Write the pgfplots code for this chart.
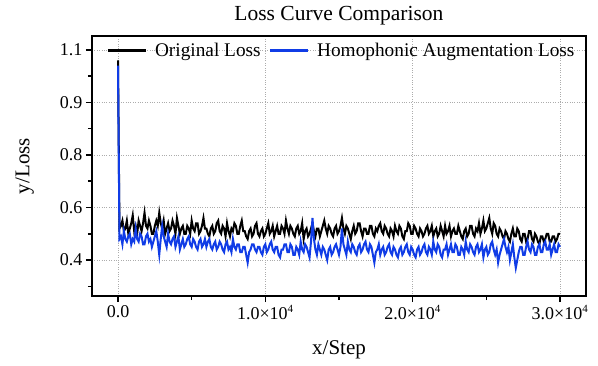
\documentclass[border=0pt]{standalone}
\usepackage{pgfplots}
\pgfplotsset{compat=1.18}
\usepackage{pgfplotstable}
\usepackage{fontspec}
\setmainfont{Liberation Serif}
\definecolor{lblue}{RGB}{16,60,230}
\pgfplotstableread{
x orig homo
0 1.16 1.14
100 0.52 0.48
200 0.53 0.49
300 0.55 0.46
400 0.51 0.51
500 0.52 0.48
600 0.55 0.47
700 0.50 0.49
800 0.52 0.50
900 0.54 0.46
1000 0.57 0.48
1100 0.51 0.47
1200 0.53 0.52
1300 0.50 0.48
1400 0.55 0.47
1500 0.53 0.50
1600 0.51 0.49
1700 0.54 0.46
1800 0.58 0.46
1900 0.53 0.49
2000 0.52 0.50
2100 0.55 0.47
2200 0.53 0.48
2300 0.50 0.45
2400 0.50 0.47
2500 0.53 0.49
2600 0.55 0.51
2700 0.53 0.47
2800 0.58 0.42
2900 0.54 0.48
3000 0.52 0.53
3100 0.55 0.49
3200 0.50 0.47
3300 0.52 0.45
3400 0.54 0.50
3500 0.51 0.47
3600 0.52 0.46
3700 0.55 0.48
3800 0.53 0.49
3900 0.50 0.45
4000 0.56 0.47
4100 0.53 0.49
4200 0.50 0.44
4300 0.52 0.46
4400 0.53 0.48
4500 0.50 0.45
4600 0.50 0.46
4700 0.53 0.48
4800 0.52 0.49
4900 0.50 0.46
5000 0.55 0.45
5100 0.52 0.48
5200 0.51 0.47
5300 0.54 0.45
5400 0.54 0.44
5500 0.50 0.47
5600 0.51 0.48
5700 0.53 0.45
5800 0.56 0.46
5900 0.52 0.48
6000 0.52 0.45
6100 0.50 0.47
6200 0.49 0.48
6300 0.52 0.45
6400 0.53 0.44
6500 0.50 0.46
6600 0.51 0.47
6700 0.54 0.44
6800 0.55 0.45
6900 0.51 0.47
7000 0.50 0.46
7100 0.53 0.44
7200 0.52 0.43
7300 0.49 0.46
7400 0.54 0.47
7500 0.51 0.44
7600 0.49 0.45
7700 0.52 0.43
7800 0.51 0.48
7900 0.54 0.45
8000 0.53 0.44
8100 0.50 0.46
8200 0.50 0.46
8300 0.53 0.43
8400 0.55 0.43
8500 0.51 0.45
8600 0.51 0.45
8700 0.49 0.42
8800 0.48 0.39
8900 0.51 0.43
9000 0.52 0.44
9100 0.49 0.46
9200 0.50 0.46
9300 0.53 0.44
9400 0.54 0.43
9500 0.50 0.45
9600 0.49 0.45
9700 0.51 0.43
9800 0.52 0.42
9900 0.49 0.45
10000 0.50 0.46
10100 0.52 0.43
10200 0.54 0.44
10300 0.50 0.46
10400 0.51 0.47
10500 0.53 0.44
10600 0.49 0.43
10700 0.51 0.45
10800 0.53 0.45
10900 0.50 0.42
11000 0.50 0.41
11100 0.53 0.44
11200 0.52 0.44
11300 0.50 0.46
11400 0.55 0.46
11500 0.52 0.43
11600 0.50 0.43
11700 0.53 0.46
11800 0.52 0.45
11900 0.50 0.42
12000 0.49 0.42
12100 0.52 0.45
12200 0.53 0.44
12300 0.50 0.42
12400 0.51 0.47
12500 0.54 0.44
12600 0.48 0.43
12700 0.51 0.46
12800 0.52 0.45
12900 0.49 0.43
13000 0.50 0.41
13100 0.52 0.47
13200 0.54 0.56
13300 0.51 0.48
13400 0.49 0.44
13500 0.52 0.42
13600 0.52 0.46
13700 0.49 0.44
13800 0.51 0.42
13900 0.53 0.45
14000 0.55 0.44
14100 0.52 0.42
14200 0.50 0.40
14300 0.53 0.44
14400 0.52 0.45
14500 0.50 0.42
14600 0.49 0.43
14700 0.52 0.45
14800 0.53 0.46
14900 0.50 0.44
15000 0.51 0.42
15100 0.53 0.45
15200 0.56 0.52
15300 0.52 0.46
15400 0.50 0.44
15500 0.53 0.42
15600 0.52 0.47
15700 0.50 0.44
15800 0.48 0.43
15900 0.51 0.46
16000 0.53 0.45
16100 0.50 0.43
16200 0.51 0.42
16300 0.54 0.45
16400 0.54 0.46
16500 0.51 0.43
16600 0.49 0.44
16700 0.52 0.46
16800 0.52 0.47
16900 0.50 0.44
17000 0.50 0.43
17100 0.53 0.46
17200 0.53 0.45
17300 0.50 0.42
17400 0.49 0.39
17500 0.52 0.43
17600 0.51 0.44
17700 0.53 0.46
17800 0.54 0.42
17900 0.51 0.44
18000 0.50 0.45
18100 0.53 0.42
18200 0.52 0.43
18300 0.50 0.45
18400 0.49 0.46
18500 0.52 0.43
18600 0.51 0.42
18700 0.49 0.45
18800 0.53 0.44
18900 0.51 0.42
19000 0.50 0.41
19100 0.53 0.44
19200 0.52 0.45
19300 0.49 0.42
19400 0.48 0.43
19500 0.51 0.45
19600 0.51 0.46
19700 0.54 0.43
19800 0.53 0.42
19900 0.50 0.45
20000 0.50 0.44
20100 0.53 0.42
20200 0.52 0.41
20300 0.50 0.44
20400 0.49 0.45
20500 0.52 0.42
20600 0.51 0.43
20700 0.49 0.45
20800 0.50 0.46
20900 0.52 0.43
21000 0.53 0.42
21100 0.50 0.45
21200 0.51 0.44
21300 0.53 0.42
21400 0.49 0.47
21500 0.51 0.44
21600 0.52 0.43
21700 0.49 0.46
21800 0.50 0.45
21900 0.53 0.42
22000 0.51 0.41
22100 0.49 0.44
22200 0.53 0.44
22300 0.50 0.46
22400 0.51 0.42
22500 0.53 0.44
22600 0.49 0.46
22700 0.51 0.43
22800 0.52 0.43
22900 0.50 0.46
23000 0.50 0.45
23100 0.53 0.42
23200 0.51 0.42
23300 0.49 0.45
23400 0.48 0.44
23500 0.51 0.42
23600 0.52 0.47
23700 0.49 0.44
23800 0.50 0.43
23900 0.53 0.46
24000 0.53 0.45
24100 0.50 0.43
24200 0.49 0.42
24300 0.52 0.45
24400 0.51 0.46
24500 0.54 0.43
24600 0.50 0.44
24700 0.52 0.46
24800 0.55 0.41
24900 0.51 0.44
25000 0.52 0.45
25100 0.54 0.42
25200 0.56 0.43
25300 0.52 0.46
25400 0.50 0.47
25500 0.54 0.44
25600 0.53 0.42
25700 0.50 0.44
25800 0.49 0.39
25900 0.52 0.42
26000 0.51 0.44
26100 0.49 0.46
26200 0.48 0.48
26300 0.51 0.45
26400 0.50 0.43
26500 0.48 0.45
26600 0.47 0.40
26700 0.50 0.43
26800 0.52 0.46
26900 0.49 0.41
27000 0.49 0.37
27100 0.52 0.40
27200 0.51 0.43
27300 0.48 0.45
27400 0.47 0.45
27500 0.50 0.42
27600 0.50 0.42
27700 0.47 0.45
27800 0.48 0.47
27900 0.51 0.44
28000 0.51 0.43
28100 0.48 0.46
28200 0.47 0.45
28300 0.50 0.42
28400 0.49 0.42
28500 0.47 0.45
28600 0.46 0.46
28700 0.49 0.43
28800 0.49 0.43
28900 0.47 0.46
29000 0.48 0.47
29100 0.50 0.44
29200 0.50 0.44
29300 0.47 0.46
29400 0.47 0.42
29500 0.49 0.44
29600 0.49 0.46
29700 0.47 0.43
29800 0.48 0.43
29900 0.50 0.46
30000 0.50 0.45
}\losstable
\begin{document}
\begin{tikzpicture}
\useasboundingbox (0,0) rectangle (598pt,365pt);
\begin{axis}[
  at={(92pt,69pt)}, anchor=south west,
  scale only axis, width=494pt, height=260pt,
  xmin=-1765, xmax=31765, ymin=0.263, ymax=1.253,
  xtick={0,10000,20000,30000},
  xticklabels={0.0,{1.0×10\textsuperscript{\fontsize{11}{12}\selectfont 4}},{2.0×10\textsuperscript{\fontsize{11}{12}\selectfont 4}},{3.0×10\textsuperscript{\fontsize{11}{12}\selectfont 4}}},
  minor xtick={5000,15000,25000},
  ytick={0.4,0.6,0.8,1.0,1.2},
  yticklabels={0.4,0.6,0.8,0.9,1.1},
  minor ytick={0.3,0.5,0.7,0.9,1.1},
  scaled x ticks=false,
  tick pos=left, tick align=outside,
  major tick length=6pt, minor tick length=4pt,
  every tick/.style={black, line width=1.5pt},
  axis line style={line width=2pt},
  grid=major,
  major grid style={dotted, gray!65, line width=0.8pt},
  tick label style={font=\fontsize{18}{20}\selectfont},
  title={Loss Curve Comparison},
  title style={font=\fontsize{21.5}{24}\selectfont, at={(axis description cs:0.5,1.054)}, anchor=center},
  xlabel={x/Step},
  xlabel style={font=\fontsize{21}{24}\selectfont, at={(axis description cs:0.5,-0.208)}, anchor=center},
  ylabel={y/Loss},
  ylabel style={font=\fontsize{21}{24}\selectfont, at={(axis description cs:-0.136,0.5)}, anchor=center, rotate=0},
  legend style={at={(axis description cs:0.023,0.99)}, anchor=north west, draw=none, fill=none,
    font=\fontsize{19.3}{21}\selectfont, column sep=6pt},
  legend columns=2,
  legend image code/.code={\draw[#1, line width=2.5pt] (0pt,0pt) -- (38pt,0pt);},
]
\addplot[black, line width=2pt] table[x=x, y=orig] {\losstable};
\addlegendentry{Original Loss}
\addplot[lblue, line width=2pt] table[x=x, y=homo] {\losstable};
\addlegendentry{Homophonic Augmentation Loss}
\end{axis}
\end{tikzpicture}
\end{document}
